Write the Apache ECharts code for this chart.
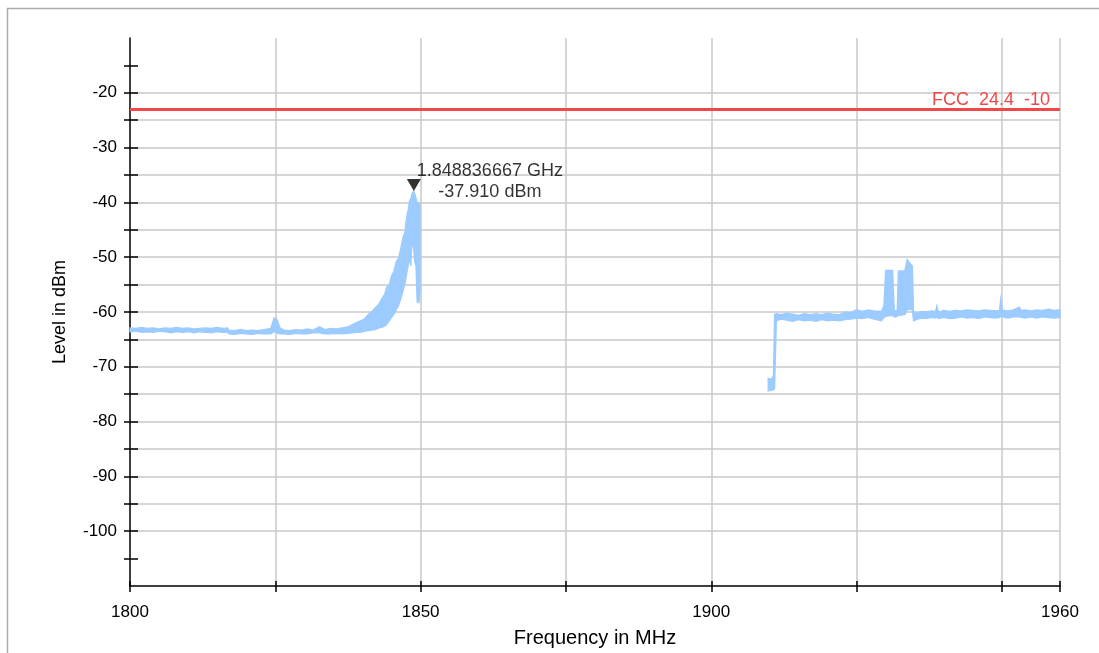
<!DOCTYPE html>
<html>
<head>
<meta charset="utf-8">
<title>Level in dBm</title>
<script src="https://cdn.jsdelivr.net/npm/echarts@6/dist/echarts.min.js"></script>
<style>
    html, body { margin: 0; padding: 0; background: #fff; }
    #chart { width: 1099px; height: 653px; }
</style>
</head>
<body>
<div id="chart"></div>
<script>
//图表容器
var chart = echarts.init(document.getElementById('chart'));

//坐标轴范围与刻度
var freqMin = 1800, freqMax = 1960, freqStep = 25;
var levelMin = -110, levelMax = -10, levelStep = 5;
var freqLabels = [1800, 1850, 1900, 1960];
var levelLabels = [-20, -30, -40, -50, -60, -70, -80, -90, -100];
var levelTicks = [-105, -100, -95, -90, -85, -80, -75, -70, -65, -60, -55, -50, -45, -40, -35, -30, -25, -20, -15];

//限值线
var limitLevel = -23;
var limitName = 'FCC  24.4  -10';

//峰值标记
var markerFreq = 1848.836667;
var markerLevel = -37.910;

//第一段频谱包络 (1800 - 1850 MHz)
var seg1Freq = [1800.0, 1801.0, 1802.0, 1803.0, 1804.0, 1805.0, 1806.0, 1807.0, 1808.0, 1809.0,
    1810.0, 1811.0, 1812.0, 1813.0, 1814.0, 1815.0, 1816.0, 1816.8, 1817.0, 1818.0,
    1819.0, 1820.0, 1821.0, 1822.0, 1823.0, 1824.2, 1824.8, 1825.3, 1825.8, 1826.5,
    1827.5, 1828.5, 1829.5, 1830.5, 1831.5, 1832.6, 1833.5, 1834.5, 1835.5, 1836.5,
    1837.5, 1838.3, 1839.0, 1839.7, 1840.4, 1841.0, 1841.6, 1842.2, 1842.8, 1843.3,
    1843.8, 1844.2, 1844.6, 1845.0, 1845.4, 1845.8, 1846.2, 1846.6, 1847.0, 1847.3,
    1847.6, 1847.9, 1848.1, 1848.3, 1848.5, 1848.8, 1849.0, 1849.2, 1849.4, 1849.7,
    1849.9];
var seg1Hi = [-62.9, -63.0, -62.8, -63.0, -62.9, -63.1, -62.9, -63.0, -62.8, -63.0,
    -62.9, -63.1, -63.0, -62.9, -63.0, -62.8, -63.0, -62.9, -63.3, -63.4,
    -63.2, -63.4, -63.3, -63.4, -63.2, -63.0, -61.1, -61.4, -62.9, -63.3,
    -63.4, -63.2, -63.3, -63.1, -63.3, -62.7, -63.2, -63.0, -63.1, -62.9,
    -62.7, -62.3, -61.9, -61.6, -61.2, -60.4, -60.0, -59.2, -58.6, -57.6,
    -56.8, -55.4, -55.0, -53.4, -52.6, -50.8, -50.2, -48.3, -46.2, -45.4,
    -42.6, -41.2, -39.6, -39.4, -38.5, -37.9, -38.4, -39.2, -40.1, -40.0,
    -40.8];
var seg1Lo = [-63.6, -63.5, -63.7, -63.6, -63.7, -63.5, -63.6, -63.8, -63.6, -63.7,
    -63.6, -63.8, -63.6, -63.7, -63.8, -63.6, -63.7, -63.7, -64.0, -64.1,
    -63.9, -64.0, -64.1, -63.9, -64.0, -64.0, -63.6, -63.8, -64.0, -64.0,
    -64.1, -63.9, -64.0, -64.0, -63.8, -63.8, -64.0, -64.0, -63.9, -64.0,
    -63.9, -63.8, -63.7, -63.7, -63.5, -63.4, -63.3, -63.2, -62.9, -62.8,
    -62.6, -62.2, -61.6, -61.0, -60.4, -59.6, -58.8, -57.6, -56.0, -54.8,
    -53.0, -51.2, -50.0, -51.6, -47.0, -48.5, -50.9, -51.5, -58.2, -58.3,
    -56.5];

//第二段频谱包络 (1910 - 1960 MHz)
var seg2Freq = [1909.8, 1910.3, 1910.7, 1910.9, 1911.2, 1912.0, 1913.0, 1914.0, 1915.0, 1916.0,
    1917.0, 1918.0, 1919.0, 1920.0, 1921.0, 1922.0, 1923.0, 1924.0, 1925.0, 1926.0,
    1927.0, 1928.0, 1929.3, 1929.7, 1930.0, 1931.2, 1931.5, 1932.0, 1932.2, 1933.3,
    1933.7, 1934.1, 1934.6, 1934.8, 1935.5, 1936.2, 1937.0, 1938.0, 1938.6, 1938.8,
    1939.1, 1940.0, 1941.0, 1942.0, 1943.0, 1944.0, 1945.0, 1946.0, 1947.0, 1948.0,
    1949.0, 1949.6, 1949.8, 1950.1, 1951.0, 1952.0, 1953.0, 1953.3, 1954.0, 1955.0,
    1956.0, 1957.0, 1958.0, 1959.0, 1960.0];
var seg2Hi = [-72.1, -72.3, -71.7, -60.4, -60.3, -60.5, -60.2, -60.4, -60.6, -60.3,
    -60.5, -60.3, -60.5, -60.2, -60.4, -60.5, -60.0, -60.1, -59.6, -59.9,
    -59.6, -59.8, -59.9, -58.8, -52.4, -52.4, -59.8, -59.7, -52.5, -52.5,
    -50.4, -51.0, -51.6, -60.0, -60.2, -59.9, -60.0, -59.8, -59.9, -58.9,
    -60.0, -59.7, -59.9, -59.7, -59.8, -59.6, -59.7, -59.8, -59.6, -59.7,
    -59.8, -59.7, -57.6, -59.6, -59.8, -59.6, -59.1, -59.7, -59.6, -59.8,
    -59.6, -59.7, -59.5, -59.7, -59.6];
var seg2Lo = [-74.4, -74.3, -74.2, -74.0, -61.6, -61.3, -61.5, -61.7, -61.4, -61.6,
    -61.5, -61.7, -61.4, -61.6, -61.5, -61.6, -61.4, -61.3, -61.1, -61.2,
    -61.0, -61.3, -61.6, -61.0, -60.8, -60.6, -60.9, -60.8, -60.6, -60.5,
    -59.6, -59.5, -59.6, -61.6, -61.3, -61.1, -61.2, -61.0, -61.1, -61.0,
    -61.2, -61.0, -61.2, -61.1, -60.9, -61.1, -61.0, -61.2, -60.9, -61.0,
    -61.1, -61.0, -60.8, -60.9, -61.1, -60.9, -60.9, -61.0, -61.1, -60.9,
    -61.1, -60.9, -61.0, -61.1, -61.0];

var segments = [
    {freq: seg1Freq, hi: seg1Hi, lo: seg1Lo},
    {freq: seg2Freq, hi: seg2Hi, lo: seg2Lo}
];

var traceColor = '#9ccbff';
var font = 'Liberation Sans, Arial, sans-serif';

//把包络画成多边形：上沿正向，下沿反向
function renderTrace(params, api) {
    var seg = segments[params.dataIndex];
    var points = [];
    for (var i = 0; i < seg.freq.length; i++) {
        points.push(api.coord([seg.freq[i], seg.hi[i]]));
    }
    for (var j = seg.freq.length - 1; j >= 0; j--) {
        points.push(api.coord([seg.freq[j], seg.lo[j]]));
    }
    return {
        type: 'polygon',
        shape: {points: points},
        style: {fill: traceColor, stroke: traceColor, lineWidth: 1.3}
    };
}

var option = {
    backgroundColor: '#fff',
    animation: false,
    graphic: [{
        type: 'rect',
        left: 5,
        top: 6,
        shape: {width: 1200, height: 700},
        style: {fill: 'none', stroke: '#ababab', lineWidth: 1.5},
        silent: true
    }],
    grid: {left: 130, right: 39, top: 38, bottom: 64},
    xAxis: [{
        type: 'value',
        min: freqMin,
        max: freqMax,
        interval: freqStep,
        name: 'Frequency in MHz',
        nameLocation: 'middle',
        nameGap: 42,
        nameTextStyle: {color: '#000', fontSize: 20, fontFamily: font},
        axisLine: {show: true, lineStyle: {color: '#000', width: 1.5}},
        axisTick: {show: true, length: 6, lineStyle: {color: '#000', width: 1.5}},
        axisLabel: {
            color: '#000',
            fontSize: 17,
            fontFamily: font,
            margin: 18,
            showMaxLabel: true,
            formatter: function (v) {
                return freqLabels.indexOf(v) >= 0 ? String(v) : '';
            }
        },
        splitLine: {show: true, showMinLine: false, lineStyle: {color: '#c8c8c8', width: 1.5}}
    }, {
        //向内的刻度
        type: 'value',
        min: freqMin,
        max: freqMax,
        interval: freqStep,
        position: 'bottom',
        axisLine: {show: false},
        axisTick: {show: true, inside: true, length: 5, lineStyle: {color: '#000', width: 1.5}},
        axisLabel: {show: false},
        splitLine: {show: false}
    }],
    yAxis: [{
        type: 'value',
        min: levelMin,
        max: levelMax,
        interval: levelStep,
        name: 'Level in dBm',
        nameLocation: 'middle',
        nameGap: 61,
        nameTextStyle: {color: '#000', fontSize: 18, fontFamily: font},
        axisLine: {show: true, lineStyle: {color: '#000', width: 1.5}},
        axisTick: {show: true, length: 6, customValues: levelTicks, lineStyle: {color: '#000', width: 1.5}},
        axisLabel: {
            color: '#000',
            fontSize: 17,
            fontFamily: font,
            margin: 13,
            formatter: function (v) {
                return levelLabels.indexOf(v) >= 0 ? String(v) : '';
            }
        },
        splitLine: {show: true, showMinLine: false, showMaxLine: false, lineStyle: {color: '#c8c8c8', width: 1.5}}
    }, {
        //向内的刻度
        type: 'value',
        min: levelMin,
        max: levelMax,
        interval: levelStep,
        position: 'left',
        axisLine: {show: false},
        axisTick: {show: true, inside: true, length: 8, customValues: levelTicks, lineStyle: {color: '#000', width: 1.5}},
        axisLabel: {show: false},
        splitLine: {show: false}
    }],
    series: [
        {
            name: 'trace',
            type: 'custom',
            renderItem: renderTrace,
            data: [[seg1Freq[0], seg1Hi[0]], [seg2Freq[0], seg2Hi[0]]],
            z: 3
        },
        {
            name: 'limit',
            type: 'line',
            data: [],
            markLine: {
                silent: true,
                symbol: 'none',
                lineStyle: {color: '#f04848', width: 3, type: 'solid'},
                label: {
                    show: true,
                    position: 'insideEndTop',
                    distance: [10, 0],
                    formatter: limitName,
                    color: '#f04848',
                    fontSize: 18,
                    fontFamily: font
                },
                data: [{yAxis: limitLevel}]
            },
            z: 4
        },
        {
            name: 'marker',
            type: 'scatter',
            data: [[markerFreq, markerLevel]],
            symbol: 'triangle',
            symbolRotate: 180,
            symbolSize: [14, 12],
            symbolOffset: [0, -6],
            itemStyle: {color: '#000'},
            label: {
                show: true,
                position: 'inside',
                offset: [76, -3],
                align: 'center',
                lineHeight: 21,
                color: '#000',
                fontSize: 18,
                fontFamily: font,
                formatter: function (p) {
                    return (p.value[0] / 1000).toFixed(9) + ' GHz\n' + p.value[1].toFixed(3) + ' dBm';
                }
            },
            z: 5
        }
    ]
};

chart.setOption(option);
window.addEventListener('resize', function () {
    chart.resize();
});
</script>
</body>
</html>
